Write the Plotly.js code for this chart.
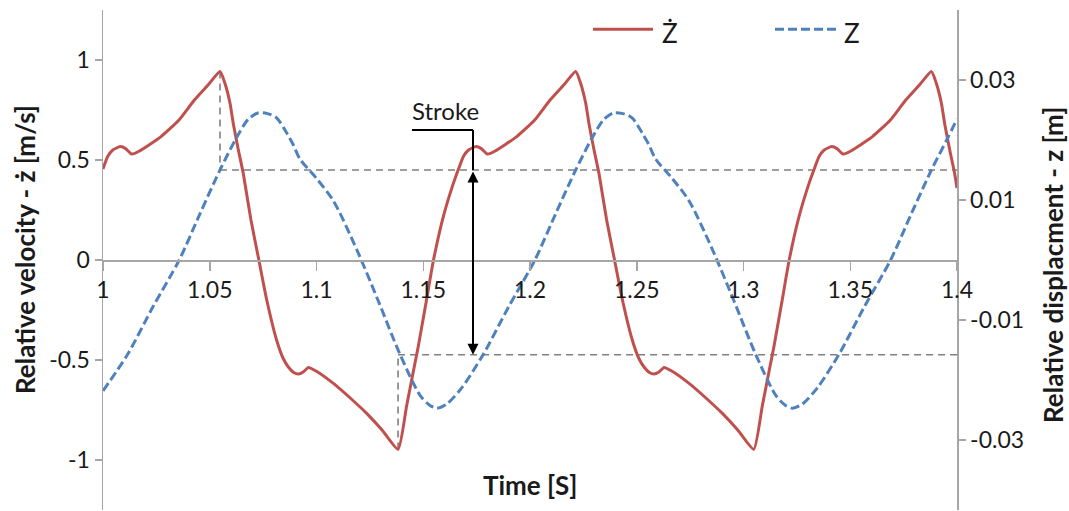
<!DOCTYPE html>
<html>
<head>
<meta charset="utf-8">
<script src="https://cdn.plot.ly/plotly-3.0.1.min.js"></script>
<style>
  html, body { margin: 0; padding: 0; background: #ffffff; }
  #chart { width: 1069px; height: 511px; }
</style>
</head>
<body>
<div id="chart"></div>
<script>
// Relative velocity ż [m/s] of the damper over time [s]
const velTime = [
  1.0000, 1.0022, 1.0046, 1.0081, 1.0106, 1.0134, 1.0171, 1.0272, 1.0356, 1.0428, 1.0496, 1.0548,
  1.0571, 1.0595, 1.0610, 1.0634, 1.0657, 1.0693, 1.0730, 1.0767, 1.0813, 1.0843, 1.0868, 1.0893,
  1.0915, 1.0938, 1.0962, 1.0998, 1.1079, 1.1158, 1.1235, 1.1307, 1.1382,
  1.1422, 1.1453, 1.1477, 1.1512, 1.1548, 1.1594, 1.1641, 1.1667, 1.1688, 1.1712, 1.1747, 1.1772,
  1.1800, 1.1837, 1.1938, 1.2022, 1.2094, 1.2162, 1.2214,
  1.2237, 1.2261, 1.2276, 1.2300, 1.2323, 1.2359, 1.2396, 1.2433, 1.2479, 1.2509, 1.2534, 1.2559,
  1.2581, 1.2604, 1.2628, 1.2664, 1.2745, 1.2824, 1.2901, 1.2973, 1.3048,
  1.3088, 1.3119, 1.3143, 1.3178, 1.3214, 1.3260, 1.3307, 1.3333, 1.3354, 1.3378, 1.3413, 1.3438,
  1.3466, 1.3503, 1.3604, 1.3688, 1.3760, 1.3828, 1.3880,
  1.3903, 1.3927, 1.3942, 1.3966, 1.3989, 1.4000
];
const velocity = [
  0.455, 0.517, 0.550, 0.567, 0.557, 0.530, 0.545, 0.617, 0.700, 0.800, 0.880, 0.942,
  0.884, 0.784, 0.683, 0.550, 0.433, 0.200, 0.000, -0.200, -0.400, -0.490, -0.535, -0.562,
  -0.570, -0.560, -0.537, -0.555, -0.617, -0.690, -0.767, -0.850, -0.947,
  -0.730, -0.560, -0.430, -0.220, 0.000, 0.217, 0.383, 0.460, 0.517, 0.550, 0.567, 0.557,
  0.530, 0.545, 0.617, 0.700, 0.800, 0.880, 0.942,
  0.884, 0.784, 0.683, 0.550, 0.433, 0.200, 0.000, -0.200, -0.400, -0.490, -0.535, -0.562,
  -0.570, -0.560, -0.537, -0.555, -0.617, -0.690, -0.767, -0.850, -0.947,
  -0.730, -0.560, -0.430, -0.220, 0.000, 0.217, 0.383, 0.460, 0.517, 0.550, 0.567, 0.557,
  0.530, 0.545, 0.617, 0.700, 0.800, 0.880, 0.942,
  0.884, 0.784, 0.683, 0.550, 0.433, 0.360
];

// Relative displacement z [m] over time [s]
const dispTime = [
  1.0000, 1.0114, 1.0234, 1.0357, 1.0454, 1.0548, 1.0624, 1.0679, 1.0726, 1.0770, 1.0813, 1.0860,
  1.0891, 1.0923, 1.1000, 1.1080, 1.1189, 1.1288, 1.1392, 1.1486, 1.1530, 1.1564,
  1.1610, 1.1680, 1.1780, 1.1900, 1.2023, 1.2120, 1.2214, 1.2290, 1.2345, 1.2389,
  1.2435, 1.2478, 1.2525, 1.2557, 1.2589, 1.2666, 1.2746, 1.2855, 1.2954, 1.3058, 1.3152, 1.3196, 1.3230,
  1.3276, 1.3346, 1.3446, 1.3566, 1.3689, 1.3786, 1.3880, 1.3956, 1.4000
];
const displacement = [
  -0.0218, -0.0158, -0.0078, 0.0000, 0.0077, 0.0150, 0.0203, 0.0234, 0.0245, 0.0244, 0.0237, 0.0212,
  0.0192, 0.0168, 0.0136, 0.0098, 0.0017, -0.0067, -0.0158, -0.0226, -0.0242, -0.0247,
  -0.0240, -0.0213, -0.0158, -0.0078, 0.0000, 0.0077, 0.0150, 0.0203, 0.0234, 0.0245,
  0.0244, 0.0237, 0.0212, 0.0192, 0.0168, 0.0136, 0.0098, 0.0017, -0.0067, -0.0158, -0.0226, -0.0242, -0.0247,
  -0.0240, -0.0213, -0.0158, -0.0078, 0.0000, 0.0077, 0.0150, 0.0203, 0.0235
];

// Tick labels
const timeTicks = [1, 1.05, 1.1, 1.15, 1.2, 1.25, 1.3, 1.35, 1.4];
const timeLabels = ['1', '1.05', '1.1', '1.15', '1.2', '1.25', '1.3', '1.35', '1.4'];
const velTicks = [-1, -0.5, 0, 0.5, 1];
const velLabels = ['-1', '-0.5', '0', '0.5', '1'];
const dispTicks = [-0.03, -0.01, 0.01, 0.03];
const dispLabels = ['-0.03', '-0.01', '0.01', '0.03'];

// Stroke construction: velocity extremes and the displacement at those instants
const peakTime = 1.0548, peakVel = 0.942;
const troughTime = 1.1382, troughVel = -0.947;
const strokeTop = 0.015, strokeBottom = -0.0158;
const strokeTime = 1.1733;
const leaderStart = 1.1447, leaderLevel = 0.65;

const velRange = 1.25;
const dispRange = 1.25 / 30;
const toVel = z => z * velRange / dispRange;

const RED = '#c0504d';
const BLUE = '#4f81bd';
const AXIS = '#a6a6a6';
const FONT = 'Lato, "Open Sans", sans-serif';
const TEXT = '#1a1a1a';

const traces = [
  {
    x: velTime, y: velocity, yaxis: 'y', type: 'scatter', mode: 'lines', name: 'Ż',
    line: { color: RED, width: 3, shape: 'spline', smoothing: 0.5 }, showlegend: false, hoverinfo: 'skip'
  },
  {
    x: dispTime, y: displacement, yaxis: 'y2', type: 'scatter', mode: 'lines', name: 'Z',
    line: { color: BLUE, width: 3, dash: '9px,4px', shape: 'spline', smoothing: 0.8 }, showlegend: false, hoverinfo: 'skip'
  }
];

const gray = { color: '#808080', width: 1.6, dash: '7px,5px' };
const black = { color: '#000000', width: 2 };

const shapes = [
  // dashed guides from the velocity peak / trough to the displacement curve
  { type: 'line', xref: 'x', yref: 'y', x0: peakTime, x1: peakTime, y0: peakVel, y1: toVel(strokeTop), line: gray, layer: 'below' },
  { type: 'line', xref: 'x', yref: 'y2', x0: peakTime, x1: 1.4, y0: strokeTop, y1: strokeTop, line: gray, layer: 'below' },
  { type: 'line', xref: 'x', yref: 'y', x0: troughTime, x1: troughTime, y0: troughVel, y1: toVel(strokeBottom), line: gray, layer: 'below' },
  { type: 'line', xref: 'x', yref: 'y2', x0: troughTime, x1: 1.4, y0: strokeBottom, y1: strokeBottom, line: gray, layer: 'below' },
  // leader for the "Stroke" label
  { type: 'line', xref: 'x', yref: 'y', x0: leaderStart, x1: strokeTime, y0: leaderLevel, y1: leaderLevel, line: black },
  { type: 'line', xref: 'x', yref: 'y', x0: strokeTime, x1: strokeTime, y0: leaderLevel, y1: toVel(strokeTop), line: black },
  // legend keys
  { type: 'line', xref: 'paper', yref: 'paper', x0: 0.5738, x1: 0.6440, y0: 0.9614, y1: 0.9614, line: { color: RED, width: 3 } },
  { type: 'line', xref: 'paper', yref: 'paper', x0: 0.7869, x1: 0.8595, y0: 0.9614, y1: 0.9614, line: { color: BLUE, width: 3, dash: '9px,4px' } }
];

const annotations = [
  {
    xref: 'x', yref: 'y2', x: strokeTime, y: strokeBottom, axref: 'x', ayref: 'y2', ax: strokeTime, ay: strokeTop,
    text: '', showarrow: true, arrowside: 'end+start', arrowhead: 2, startarrowhead: 2,
    arrowsize: 1.1, startarrowsize: 1.1, arrowwidth: 2, arrowcolor: '#000000', standoff: 0, startstandoff: 0
  },
  {
    xref: 'x', yref: 'y', x: 1.1602, y: 0.75, text: 'Stroke', showarrow: false,
    xanchor: 'center', yanchor: 'middle', font: { family: FONT, size: 24, color: TEXT }
  },
  {
    xref: 'paper', yref: 'paper', x: 0.5, y: 0.05, text: '<b>Time [S]</b>', showarrow: false,
    xanchor: 'center', yanchor: 'middle', font: { family: FONT, size: 26, color: TEXT }
  },
  {
    xref: 'paper', yref: 'paper', x: -0.0913, y: 0.52, text: '<b>Relative velocity - ż [m/s]</b>', showarrow: false,
    textangle: -90, xanchor: 'center', yanchor: 'middle', font: { family: FONT, size: 26, color: TEXT }
  },
  {
    xref: 'paper', yref: 'paper', x: 1.1124, y: 0.49, text: '<b>Relative displacment - z [m]</b>', showarrow: false,
    textangle: -90, xanchor: 'center', yanchor: 'middle', font: { family: FONT, size: 26, color: TEXT }
  },
  {
    xref: 'paper', yref: 'paper', x: 0.6522, y: 0.955, text: 'Ż', showarrow: false,
    xanchor: 'left', yanchor: 'middle', font: { family: FONT, size: 26, color: TEXT }
  },
  {
    xref: 'paper', yref: 'paper', x: 0.8653, y: 0.955, text: 'Z', showarrow: false,
    xanchor: 'left', yanchor: 'middle', font: { family: FONT, size: 26, color: TEXT }
  }
];

const axisStyle = {
  showline: true, linecolor: AXIS, linewidth: 1.5,
  ticks: 'outside', tickcolor: AXIS, tickwidth: 1.5,
  showgrid: false, zeroline: false,
  tickfont: { family: FONT, size: 23, color: TEXT }
};

const layout = {
  width: 1069, height: 511,
  margin: { l: 103, r: 112, t: 10, b: 1, pad: 0 },
  paper_bgcolor: '#ffffff', plot_bgcolor: '#ffffff',
  showlegend: false,
  font: { family: FONT, color: TEXT },
  xaxis: Object.assign({}, axisStyle, {
    range: [1, 1.4], anchor: 'free', position: 0.5, ticklen: 9,
    tickmode: 'array', tickvals: timeTicks, ticktext: timeLabels
  }),
  yaxis: Object.assign({}, axisStyle, {
    range: [-velRange, velRange], ticklen: 7,
    tickmode: 'array', tickvals: velTicks, ticktext: velLabels
  }),
  yaxis2: Object.assign({}, axisStyle, {
    range: [-dispRange, dispRange], overlaying: 'y', side: 'right', ticklen: 7,
    tickmode: 'array', tickvals: dispTicks, ticktext: dispLabels
  }),
  shapes: shapes,
  annotations: annotations
};

Plotly.newPlot('chart', traces, layout, { staticPlot: true, displayModeBar: false });
</script>
</body>
</html>
